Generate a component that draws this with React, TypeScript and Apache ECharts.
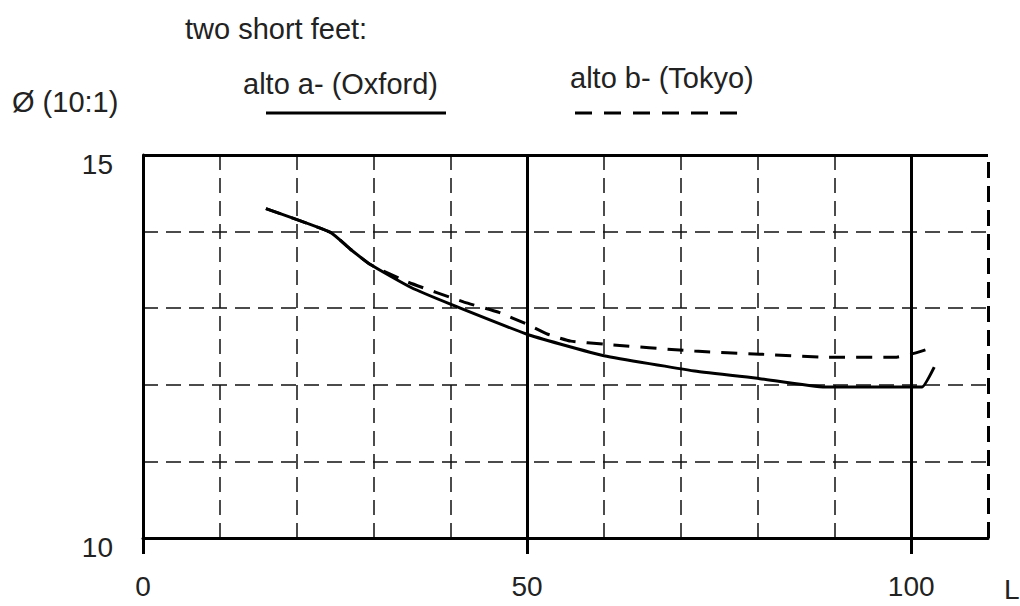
import React, { useEffect, useRef } from "react";
import * as echarts from "echarts";

// Oxford (alto a-) – solid line
const oxfordL = [16, 24.4, 27, 29.6, 34.9, 40.1, 50, 54.4, 60, 71.8, 80.3, 88.8, 100, 101.4, 103];
const oxfordD = [14.3, 13.99, 13.77, 13.57, 13.27, 13.05, 12.66, 12.53, 12.38, 12.18, 12.08, 11.97, 11.97, 11.97, 12.23];

// Tokyo (alto b-) – dashed line
const tokyoL = [16, 24.4, 27, 29.6, 34.5, 41.8, 46.2, 50, 52.7, 55.7, 60, 71.8, 80.3, 88.8, 97.9, 100, 102.3];
const tokyoD = [14.3, 13.99, 13.77, 13.57, 13.34, 13.08, 12.95, 12.79, 12.66, 12.57, 12.53, 12.44, 12.4, 12.36, 12.36, 12.4, 12.47];

const xLabels = [0, 50, 100];
const yLabels = [10, 15];
const titleText = "two short feet:";
const yTitle = "Ø (10:1)";
const xTitle = "L";
const seriesNames = ["alto a- (Oxford)", "alto b- (Tokyo)"];

const FONT = '"Liberation Sans", Arial, sans-serif';
const TXT = "#222";

export default function App() {
  const ref = useRef<HTMLDivElement>(null);
  useEffect(() => {
    if (!ref.current) return;
    const chart = echarts.init(ref.current, undefined, { renderer: "svg" });
    const oxford = oxfordL.map((x, i) => [x, oxfordD[i]]);
    const tokyo = tokyoL.map((x, i) => [x, tokyoD[i]]);
    chart.setOption({
      animation: false,
      backgroundColor: "#fff",
      textStyle: { fontFamily: FONT },
      grid: { left: 143, right: 32, top: 155, bottom: 68 },
      xAxis: [
        {
          type: "value",
          min: 0,
          max: 110,
          interval: 10,
          axisLine: { show: true, lineStyle: { color: "#000", width: 3 } },
          axisTick: { show: false },
          axisLabel: { show: false },
          splitLine: {
            show: true,
            showMaxLine: false,
            lineStyle: { color: "#111", width: 1.5, type: [15, 8] },
          },
        },
        {
          type: "value",
          position: "bottom",
          min: 0,
          max: 110,
          interval: 10,
          axisLine: { show: false },
          splitLine: { show: false },
          axisTick: {
            show: true,
            customValues: xLabels,
            length: 16,
            lineStyle: { color: "#000", width: 3 },
          },
          axisLabel: {
            margin: 34,
            fontSize: 28,
            color: TXT,
            fontFamily: FONT,
            customValues: xLabels,
            formatter: (v: number) => String(v),
          },
        },
      ],
      yAxis: {
        type: "value",
        min: 10,
        max: 15,
        interval: 1,
        axisLine: { show: true, lineStyle: { color: "#000", width: 3 } },
        axisTick: { show: false },
        axisLabel: {
          margin: 30,
          fontSize: 28,
          color: TXT,
          fontFamily: FONT,
          verticalAlign: "top",
          lineHeight: 18,
          formatter: (v: number) => (yLabels.includes(v) ? String(v) : ""),
        },
        splitLine: {
          show: true,
          lineStyle: { color: "#111", width: 1.5, type: [15, 8] },
        },
      },
      series: [
        {
          name: seriesNames[0],
          type: "line",
          xAxisIndex: 0,
          data: oxford,
          showSymbol: false,
          symbol: "none",
          smooth: 0.15,
          z: 5,
          lineStyle: { color: "#000", width: 3 },
          markLine: {
            silent: true,
            symbol: ["none", "none"],
            label: { show: false },
            lineStyle: { color: "#000", width: 3, type: "solid" },
            data: [
              { xAxis: 50 },
              { xAxis: 100 },
              { yAxis: 15 },
              { xAxis: 110, lineStyle: { color: "#000", width: 3, type: [16, 8] } },
            ],
          },
        },
        {
          name: seriesNames[1],
          type: "line",
          xAxisIndex: 0,
          data: tokyo,
          showSymbol: false,
          symbol: "none",
          smooth: 0.15,
          z: 4,
          lineStyle: { color: "#000", width: 3, type: [16, 11] },
        },
      ],
      graphic: [
        { type: "text", x: 185, y: 29, style: { text: titleText, fontSize: 29, fontFamily: FONT, fill: TXT, verticalAlign: "middle" } },
        { type: "text", x: 12, y: 102, style: { text: yTitle, fontSize: 29, fontFamily: FONT, fill: TXT, verticalAlign: "middle" } },
        { type: "text", x: 243, y: 84, style: { text: seriesNames[0], fontSize: 29, fontFamily: FONT, fill: TXT, verticalAlign: "middle" } },
        { type: "text", x: 570, y: 78, style: { text: seriesNames[1], fontSize: 29, fontFamily: FONT, fill: TXT, verticalAlign: "middle" } },
        { type: "line", shape: { x1: 266, y1: 113, x2: 446, y2: 113 }, style: { stroke: "#000", lineWidth: 3 } },
        { type: "line", shape: { x1: 575, y1: 113, x2: 743, y2: 113 }, style: { stroke: "#000", lineWidth: 3, lineDash: [17, 12] } },
        { type: "text", x: 1004, y: 589, style: { text: xTitle, fontSize: 28, fontFamily: FONT, fill: TXT, verticalAlign: "middle" } },
      ],
    });
    return () => chart.dispose();
  }, []);
  return (
    <div
      ref={ref}
      style={{ position: "fixed", left: 0, top: 0, width: 1020, height: 606 }}
    />
  );
}
